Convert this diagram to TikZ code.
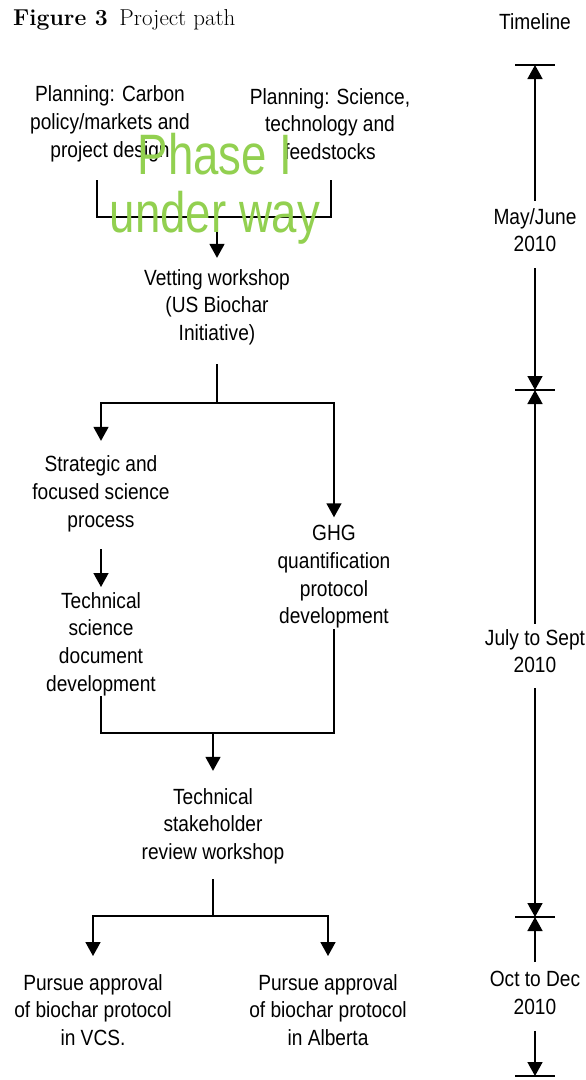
\documentclass[tikz,border=0pt]{standalone}
\usepackage{fontspec}
\newfontfamily\narrowsf{Liberation Sans}[FakeStretch=0.87]
\newfontfamily\phasesf{Liberation Sans}[FakeStretch=0.8]
\usetikzlibrary{arrows.meta}
\definecolor{phasegreen}{RGB}{146,208,80}

\begin{document}
\begin{tikzpicture}[x=1pt, y=-1pt,
  steptext/.style={font=\narrowsf\fontsize{22}{27.7}\selectfont, align=center, inner sep=0pt},
  link/.style={line width=1.6pt},
  flow/.style={link, -{Triangle[width=15pt,length=14pt]}},
  tick/.style={line width=1.6pt}]
\useasboundingbox (0,0) rectangle (586,1080);

\node[anchor=base west, font=\fontsize{23}{26}\selectfont, inner sep=0pt] (title) at (13,25) {\textbf{Figure 3}\enspace Project path};
\node[steptext, anchor=base] (timeline) at (535,29) {Timeline};

% flow chart
\node[steptext] (carbon) at (110,124) {Planning: Carbon\\policy/markets and\\project design};
\node[steptext] (science) at (330,124) {Planning: Science,\\technology and\\feedstocks};
\node[steptext] (vetting) at (217,307) {Vetting workshop\\(US Biochar\\Initiative)};
\node[steptext] (strategic) at (101,494) {Strategic and\\focused science\\process};
\node[steptext] (techsci) at (101,644) {Technical\\science\\document\\development};
\node[steptext] (ghg) at (334,577) {GHG\\quantification\\protocol\\development};
\node[steptext] (stakeholder) at (213,826) {Technical\\stakeholder\\review workshop};
\node[steptext] (vcs) at (93,1010) {Pursue approval\\of biochar protocol\\in VCS.};
\node[steptext] (alberta) at (328,1010) {Pursue approval\\of biochar protocol\\in Alberta};

\coordinate (carbonout) at (97,180);
\coordinate (scienceout) at (331,180);
\coordinate (join1) at (217,217);
\coordinate (split1) at (217,403);
\coordinate (merge) at (213,733);
\coordinate (split2) at (213,916);

\draw[link] (carbonout) |- (join1) -| (scienceout);
\draw[flow, shorten >=11pt] (join1) -- (vetting.north);
\draw[link, shorten <=19pt] (vetting.south) -- (split1);
\draw[flow, shorten >=15pt] (split1) -| (strategic.north);
\draw[flow, shorten >=8pt] (split1) -| (ghg.north);
\draw[flow, shorten <=17pt, shorten >=5pt] (strategic.south) -- (techsci.north);
\draw[link] (techsci.south) |- (merge) -| (ghg.south);
\draw[flow, shorten >=17pt] (merge) -- (stakeholder.north);
\draw[link, shorten <=15pt] (stakeholder.south) -- (split2);
\draw[flow, shorten >=18pt] (split2) -| (vcs.north);
\draw[flow, shorten >=18pt] (split2) -| (alberta.north);

% timeline
\coordinate (t1) at (535,65);
\coordinate (t2) at (535,390);
\coordinate (t3) at (535,917);
\coordinate (t4) at (535,1076);
\foreach \t in {t1,t2,t3,t4}
  \draw[tick] ([xshift=-20pt]\t) -- ([xshift=20pt]\t);

\node[steptext] (may) at (535,230) {May/June\\2010};
\node[steptext] (july) at (535,651) {July to Sept\\2010};
\node[steptext] (oct) at (535,993) {Oct to Dec\\2010};

\draw[flow, shorten <=7pt] (may.north) -- (t1);
\draw[flow, shorten <=16pt] (may.south) -- (t2);
\draw[flow, shorten <=5pt] (july.north) -- (t2);
\draw[flow, shorten <=15pt] (july.south) -- (t3);
\draw[flow, shorten <=9pt] (oct.north) -- (t3);
\draw[flow, shorten <=16pt] (oct.south) -- (t4);

\node[font=\phasesf\fontsize{57}{58}\selectfont, text=phasegreen, align=center, inner sep=0pt] (phase) at (215,189) {Phase I\\under way};
\end{tikzpicture}
\end{document}
